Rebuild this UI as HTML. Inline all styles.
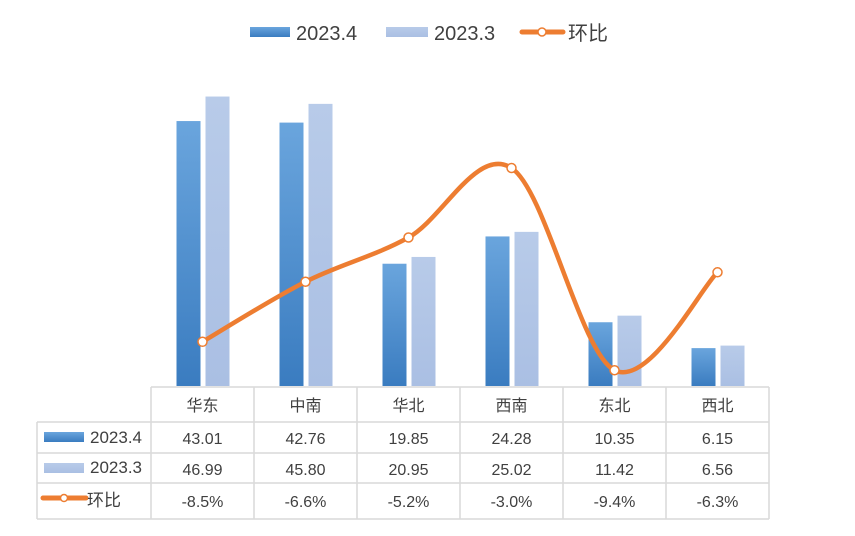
<!DOCTYPE html>
<html><head><meta charset="utf-8"><style>
body{margin:0;background:#fff;width:855px;height:531px;overflow:hidden;font-family:"Liberation Sans","Noto Sans CJK SC",sans-serif}
svg text{font-family:"Liberation Sans","Noto Sans CJK SC",sans-serif;fill:#404040}
</style></head><body>
<svg width="855" height="531">
<defs>
<linearGradient id="gd" x1="0" y1="0" x2="0" y2="1"><stop offset="0" stop-color="#6aa5dd"/><stop offset="1" stop-color="#3a7cc0"/></linearGradient>
<linearGradient id="gl" x1="0" y1="0" x2="0" y2="1"><stop offset="0" stop-color="#b8cbe9"/><stop offset="1" stop-color="#aabfe3"/></linearGradient>
</defs>
<g>
<rect x="250" y="27" width="40" height="10" fill="url(#gd)"/>
<text x="296" y="40" font-size="20">2023.4</text>
<rect x="386" y="27" width="42" height="10" fill="url(#gl)"/>
<text x="434" y="40" font-size="20">2023.3</text>
<line x1="522" y1="32" x2="563" y2="32" stroke="#ed7d31" stroke-width="5" stroke-linecap="round"/>
<circle cx="542" cy="32" r="4" fill="#fff" stroke="#ed7d31" stroke-width="1.5"/>
<text x="568" y="40" font-size="20">环比</text>
</g>
<g id="bars"></g><g id="line"></g><g id="table"></g>
</svg>
<script>
const categories=["华东","中南","华北","西南","东北","西北"];
const s2023_4=[43.01,42.76,19.85,24.28,10.35,6.15];
const s2023_3=[46.99,45.80,20.95,25.02,11.42,6.56];
const huanbi=[-8.5,-6.6,-5.2,-3.0,-9.4,-6.3];
const NS="http://www.w3.org/2000/svg";
const colL=151,colW=103,base=386;
function xC(i){return colL+colW*i+colW/2;}
function yB(v){return base-v*6.16;}
function yL(v){return 168+(-3.0-v)*31.6;}
function mk(t,a,p){const e=document.createElementNS(NS,t);for(const k in a)e.setAttribute(k,a[k]);p.appendChild(e);return e;}
const gb=document.getElementById('bars');
categories.forEach((c,i)=>{
 const r1=mk('rect',{x:xC(i)-26,y:yB(s2023_4[i]),width:24,height:base-yB(s2023_4[i]),fill:'url(#gd)'},gb);
 
 
 const r2=mk('rect',{x:xC(i)+3,y:yB(s2023_3[i]),width:24,height:base-yB(s2023_3[i]),fill:'url(#gl)'},gb);
 
 
});
const gl=document.getElementById('line');
const pts=huanbi.map((v,i)=>[xC(i),yL(v)]);
let d='M'+pts[0][0]+','+pts[0][1];
for(let i=0;i<pts.length-1;i++){
 const p0=pts[Math.max(0,i-1)],p1=pts[i],p2=pts[i+1],p3=pts[Math.min(pts.length-1,i+2)];
 const t=1/6;
 d+=' C'+(p1[0]+(p2[0]-p0[0])*t)+','+(p1[1]+(p2[1]-p0[1])*t)+' '+(p2[0]-(p3[0]-p1[0])*t)+','+(p2[1]-(p3[1]-p1[1])*t)+' '+p2[0]+','+p2[1];
}
const path=mk('path',{d:d,fill:'none',stroke:'#ed7d31','stroke-width':4.5,'stroke-linecap':'round'},gl);


pts.forEach((p,i)=>{
 const c=mk('circle',{cx:p[0],cy:p[1],r:4.5,fill:'#fff',stroke:'#ed7d31','stroke-width':1.5},gl);
 
 
});
const gt=document.getElementById('table');
const rows=[387,422,453,483,519];
const right=colL+colW*6;
const ls={stroke:'#d9d9d9','stroke-width':1.5};
mk('line',Object.assign({x1:colL,y1:rows[0],x2:right,y2:rows[0]},ls),gt);
for(let r=1;r<rows.length;r++)mk('line',Object.assign({x1:37,y1:rows[r],x2:right,y2:rows[r]},ls),gt);
mk('line',Object.assign({x1:37,y1:rows[1],x2:37,y2:rows[4]},ls),gt);
for(let c=0;c<=6;c++)mk('line',Object.assign({x1:colL+colW*c,y1:rows[0],x2:colL+colW*c,y2:rows[4]},ls),gt);
function txt(x,y,s,name,anchor,fs){const t=mk('text',{x:x,y:y,'font-size':fs||16,'text-anchor':anchor||'middle'},gt);t.textContent=s;
 
 }
categories.forEach((c,i)=>{
 txt(xC(i),rows[0]+24,c,'category-label-'+i);
 txt(xC(i),rows[1]+22,s2023_4[i].toFixed(2),'value-2023-4-'+i);
 txt(xC(i),rows[2]+22,s2023_3[i].toFixed(2),'value-2023-3-'+i);
 txt(xC(i),rows[3]+24,huanbi[i].toFixed(1)+'%','value-huanbi-'+i);
});
mk('rect',{x:44,y:432,width:40,height:10,fill:'url(#gd)'},gt);
txt(90,443,'2023.4','row-label-2023-4','start',17);
mk('rect',{x:44,y:463,width:40,height:10,fill:'url(#gl)'},gt);
txt(90,473,'2023.3','row-label-2023-3','start',17);
mk('line',{x1:43,y1:498,x2:86,y2:498,stroke:'#ed7d31','stroke-width':5,'stroke-linecap':'round'},gt);
mk('circle',{cx:64,cy:498,r:3.5,fill:'#fff',stroke:'#ed7d31','stroke-width':1.5},gt);
txt(87,506,'环比','row-label-huanbi','start',17);
</script>
</body></html>
